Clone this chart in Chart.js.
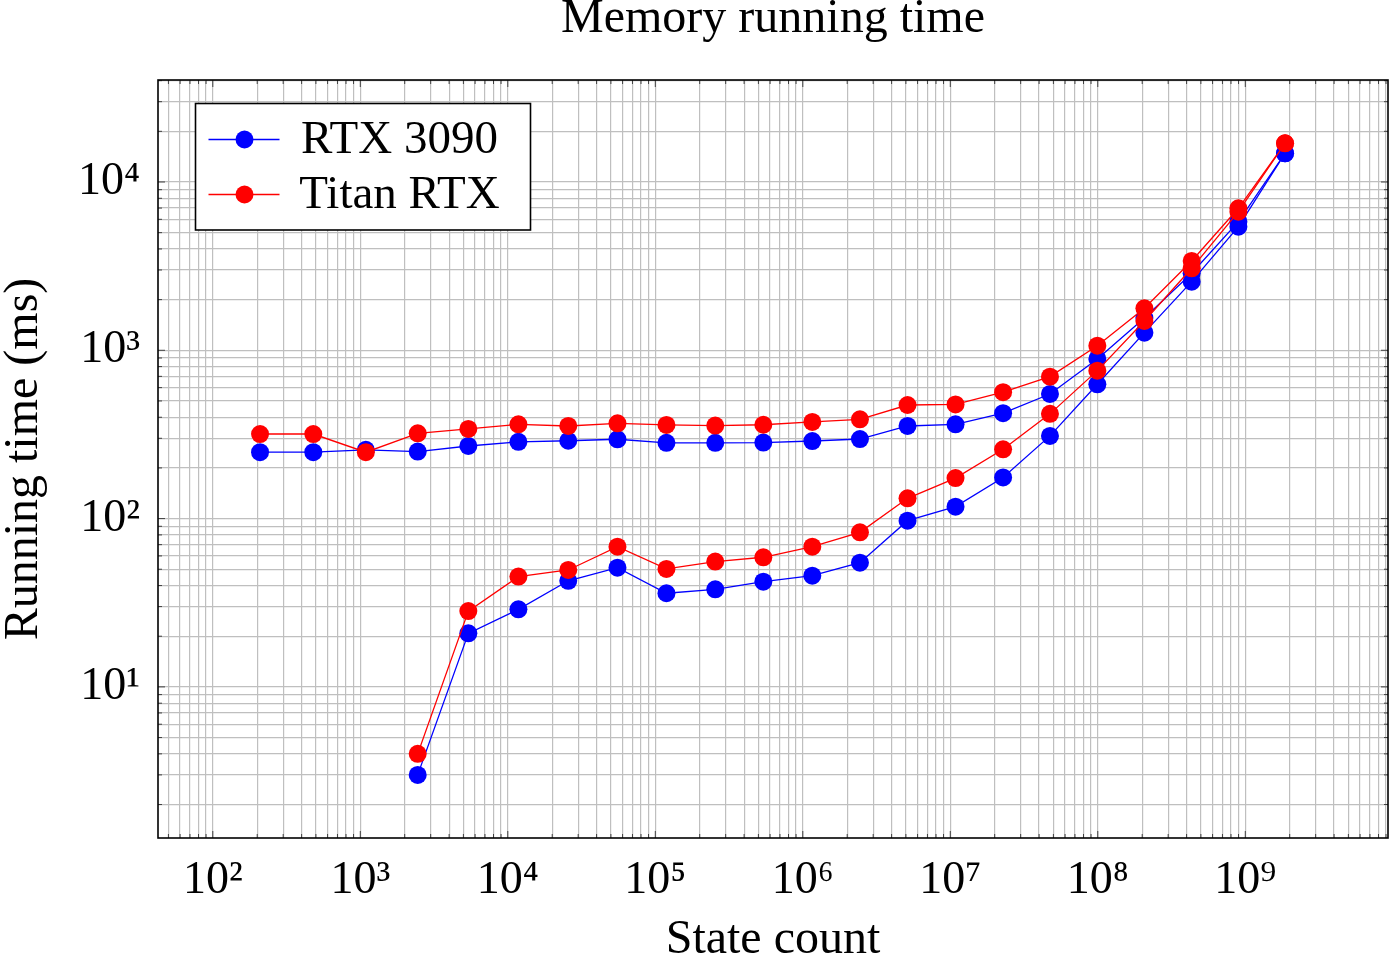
<!DOCTYPE html>
<html><head><meta charset="utf-8">
<script src="https://cdn.jsdelivr.net/npm/chart.js@4.4.0/dist/chart.umd.min.js"></script>
<style>html,body{margin:0;padding:0;background:#fff;}canvas{display:block;}</style>
</head><body>
<canvas id="c" width="1389" height="956"></canvas>
<script>
const chartTitle = 'Memory running time';
const xAxisTitle = 'State count';
const yAxisTitle = 'Running time (ms)';
const seriesNames = ['RTX 3090', 'Titan RTX'];

const stateCounts = [209, 480, 1090, 2450, 5400, 11800, 25700, 55400, 119000, 255000, 540000,
  1160000, 2440000, 5130000, 10850000, 22800000, 47400000, 99300000, 207000000, 433000000, 898000000, 1860000000];

const rtx3090Upper = [248, 248, 256, 250, 270, 286, 290, 296, 282, 282, 283,
  289, 297, 355, 363, 423, 550, 888, 1555, 2868, 5808, 14810];
const titanUpper = [318, 318, 248, 321, 341, 363, 355, 368, 360, 357, 361,
  375, 389, 473, 477, 564, 697, 1065, 1777, 3395, 6979, 16980];
const rtx3090Lower = [null, null, null, 3.0, 20.8, 28.9, 42.7, 51.1, 36.0, 38.0, 42.2,
  45.8, 54.7, 97.2, 117.7, 175.5, 310, 628, 1273, 2556, 5424, 14810];
const titanLower = [null, null, null, 4.0, 28.2, 45.2, 49.5, 68.1, 50.2, 55.5, 58.9,
  68.1, 82.9, 132, 174, 258, 419, 757, 1493, 3070, 6660, 16980];

const xTickValues = [1e2, 1e3, 1e4, 1e5, 1e6, 1e7, 1e8, 1e9];
const xTickLabels = ['10²', '10³', '10⁴', '10⁵', '10⁶', '10⁷', '10⁸', '10⁹'];
const yTickValues = [1e1, 1e2, 1e3, 1e4];
const yTickLabels = ['10¹', '10²', '10³', '10⁴'];
const xRange = [42.5, 9.28e9];
const yRange = [1.265, 40360];

const BLUE = 'rgb(0,0,255)';
const RED = 'rgb(255,0,0)';
const FONT = '"Liberation Serif", "Times New Roman", serif';

function toPoints(xs, ys) {
  return xs.map((x, i) => ({x: x, y: ys[i]})).filter(p => p.y !== null);
}
function logGridTicks(min, max) {
  const out = [];
  for (let e = Math.floor(Math.log10(min)); e <= Math.ceil(Math.log10(max)); e++) {
    for (let m = 1; m <= 9; m++) {
      const v = m * Math.pow(10, e);
      if (v >= min && v <= max) out.push({value: v});
    }
  }
  return out;
}
function labelFor(value, values, labels) {
  for (let i = 0; i < values.length; i++) {
    if (Math.abs(value - values[i]) / values[i] < 1e-9) return labels[i];
  }
  return '';
}
function isDecade(v) {
  const l = Math.log10(v);
  return Math.abs(l - Math.round(l)) < 1e-9;
}

function ds(label, ys, color, order, inLegend) {
  return {
    label: label, data: toPoints(stateCounts, ys),
    borderColor: color, backgroundColor: color,
    borderWidth: 1.3, pointRadius: 9, pointHoverRadius: 9, pointBorderWidth: 0,
    pointBackgroundColor: color, tension: 0, order: order, inLegend: inLegend
  };
}

const frameTicksPlugin = {
  id: 'frameTicks',
  afterDatasetsDraw(chart) {
    const {ctx, chartArea: a, scales} = chart;
    ctx.save();
    ctx.strokeStyle = '#404040';
    ctx.lineWidth = 1;
    scales.x.ticks.forEach(t => {
      const px = scales.x.getPixelForValue(t.value);
      const len = isDecade(t.value) ? 7 : 4;
      ctx.beginPath();
      ctx.moveTo(px, a.bottom); ctx.lineTo(px, a.bottom - len);
      ctx.moveTo(px, a.top); ctx.lineTo(px, a.top + len);
      ctx.stroke();
    });
    scales.y.ticks.forEach(t => {
      const py = scales.y.getPixelForValue(t.value);
      const len = isDecade(t.value) ? 7 : 4;
      ctx.beginPath();
      ctx.moveTo(a.left, py); ctx.lineTo(a.left + len, py);
      ctx.moveTo(a.right, py); ctx.lineTo(a.right - len, py);
      ctx.stroke();
    });
    ctx.strokeStyle = '#000';
    ctx.lineWidth = 1.6;
    ctx.strokeRect(a.left, a.top, a.right - a.left, a.bottom - a.top);
    ctx.restore();
  }
};

const boxLegendPlugin = {
  id: 'boxLegend',
  afterDraw(chart) {
    const {ctx, chartArea: a} = chart;
    const x0 = a.left + 37.5, y0 = a.top + 23.5, w = 335, h = 126.5;
    ctx.save();
    ctx.fillStyle = '#fff';
    ctx.fillRect(x0, y0, w, h);
    ctx.strokeStyle = '#000';
    ctx.lineWidth = 1.6;
    ctx.strokeRect(x0, y0, w, h);
    const entries = chart.data.datasets.filter(d => d.inLegend);
    entries.forEach((d, i) => {
      const cy = y0 + 36 + i * 55;
      ctx.strokeStyle = d.borderColor;
      ctx.lineWidth = 1.3;
      ctx.beginPath();
      ctx.moveTo(x0 + 13, cy); ctx.lineTo(x0 + 84, cy);
      ctx.stroke();
      ctx.fillStyle = d.borderColor;
      ctx.beginPath();
      ctx.arc(x0 + 49, cy, 9, 0, Math.PI * 2);
      ctx.fill();
      ctx.fillStyle = '#000';
      ctx.font = '47px ' + FONT;
      ctx.textAlign = 'center';
      ctx.textBaseline = 'alphabetic';
      ctx.fillText(d.label, x0 + 204, cy + 13.5);
    });
    ctx.restore();
  }
};

Chart.defaults.color = '#000';
Chart.defaults.font.family = FONT;

new Chart(document.getElementById('c'), {
  type: 'line',
  data: {
    datasets: [
      ds(seriesNames[0], rtx3090Upper, BLUE, 4, true),
      ds(seriesNames[1], titanUpper, RED, 3, true),
      ds(seriesNames[0], rtx3090Lower, BLUE, 2, false),
      ds(seriesNames[1], titanLower, RED, 1, false)
    ]
  },
  options: {
    responsive: false,
    animation: false,
    devicePixelRatio: 1,
    layout: {autoPadding: false, padding: {top: 0, left: 0, right: 1, bottom: 0}},
    plugins: {
      legend: {display: false},
      tooltip: {enabled: false},
      title: {
        display: true, text: chartTitle, fullSize: false, color: '#000',
        font: {family: FONT, size: 48, weight: 'normal', lineHeight: 0.66},
        padding: {top: 4, bottom: 44.32}
      }
    },
    scales: {
      x: {
        type: 'logarithmic', position: 'bottom', min: xRange[0], max: xRange[1],
        afterBuildTicks: s => { s.ticks = logGridTicks(xRange[0], xRange[1]); },
        afterFit: s => { s.height = 118; s.paddingLeft = 0; s.paddingRight = 0; },
        grid: {color: '#bfbfbf', lineWidth: 1.2, drawTicks: false},
        border: {display: false},
        ticks: {
          autoSkip: false, maxRotation: 0, minRotation: 0, padding: 15,
          font: {family: FONT, size: 46},
          callback: v => labelFor(v, xTickValues, xTickLabels)
        },
        title: {
          display: true, text: xAxisTitle, color: '#000',
          font: {family: FONT, size: 48, lineHeight: 0.6},
          padding: {top: 0, bottom: 1}
        }
      },
      y: {
        type: 'logarithmic', position: 'left', min: yRange[0], max: yRange[1],
        afterBuildTicks: s => { s.ticks = logGridTicks(yRange[0], yRange[1]); },
        afterFit: s => { s.width = 158; s.paddingTop = 0; s.paddingBottom = 0; },
        grid: {color: '#bfbfbf', lineWidth: 1.2, drawTicks: false},
        border: {display: false},
        ticks: {
          autoSkip: false, padding: 18,
          font: {family: FONT, size: 46},
          callback: v => labelFor(v, yTickValues, yTickLabels)
        },
        title: {
          display: true, text: yAxisTitle, color: '#000',
          font: {family: FONT, size: 48, lineHeight: 1},
          padding: {top: 0.5, bottom: 0}
        }
      }
    }
  },
  plugins: [frameTicksPlugin, boxLegendPlugin]
});
</script>
</body></html>
